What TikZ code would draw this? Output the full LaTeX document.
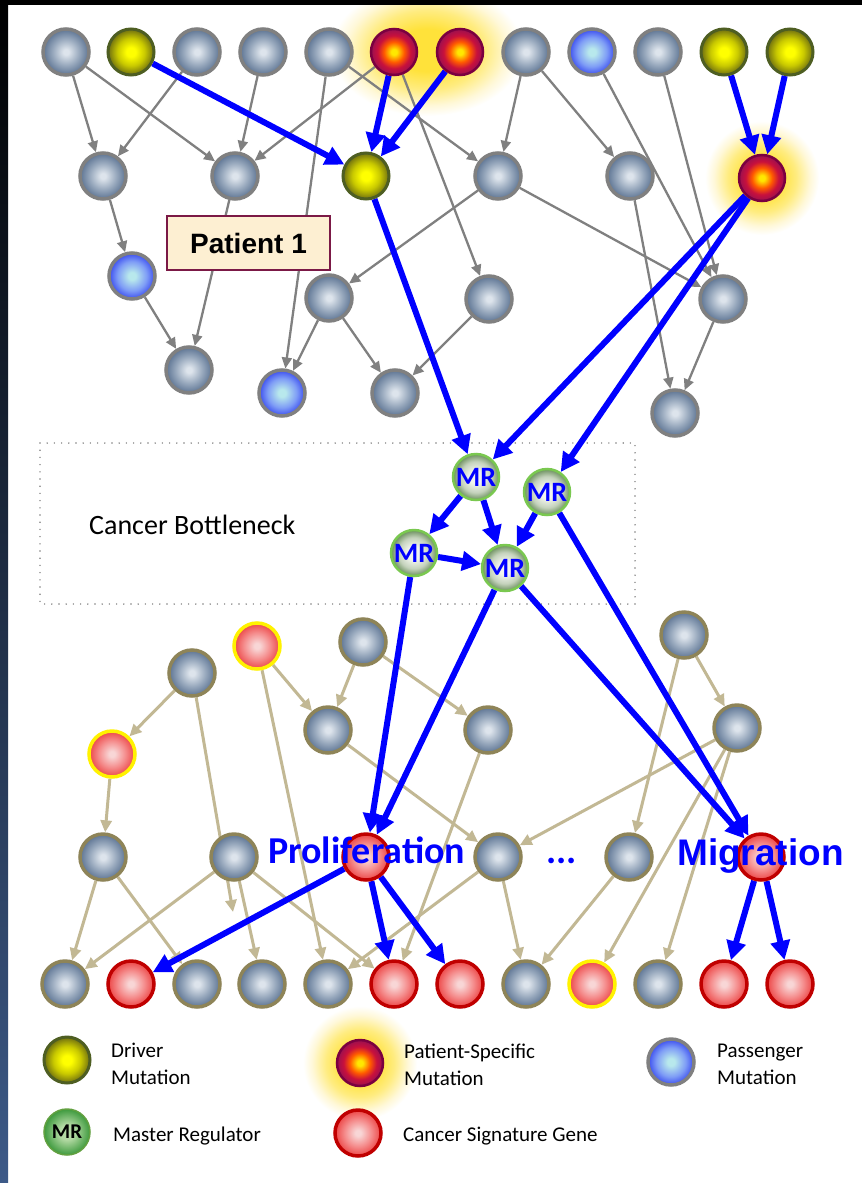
\documentclass[tikz,border=0pt]{standalone}
\usepackage{fontspec}
\setmainfont{Carlito}
\newfontfamily\arialf{Liberation Sans}
\usetikzlibrary{arrows.meta}
\definecolor{gIn}{HTML}{DDE4EC}
\definecolor{gMid}{HTML}{95A6BB}
\definecolor{gOut}{HTML}{5D7493}
\definecolor{bIn}{HTML}{B8E8EC}
\definecolor{bMid}{HTML}{7E9CF6}
\definecolor{bOut}{HTML}{3A4CF0}
\definecolor{yIn}{HTML}{FFFF00}
\definecolor{yMid}{HTML}{C8C800}
\definecolor{yOut}{HTML}{6E6E10}
\definecolor{rIn}{HTML}{FFE800}
\definecolor{rMid}{HTML}{FF5A00}
\definecolor{rMid2}{HTML}{C8103C}
\definecolor{rOut}{HTML}{9A1050}
\definecolor{sIn}{HTML}{F8D6D6}
\definecolor{sMid}{HTML}{F59090}
\definecolor{sOut}{HTML}{EC4646}
\definecolor{mIn}{HTML}{F2F5EE}
\definecolor{mMid}{HTML}{C4D2BC}
\definecolor{mOut}{HTML}{6A8E5C}
\definecolor{lgIn}{HTML}{B4DAA4}
\definecolor{lgOut}{HTML}{3E9A3E}
\definecolor{glIn}{HTML}{FFE23A}
\definecolor{glMid}{HTML}{FFEC80}
\definecolor{glOut}{HTML}{FFF8D8}
\definecolor{ugray}{HTML}{808080}
\definecolor{tanb}{HTML}{8E8458}
\definecolor{tane}{HTML}{C2B894}
\definecolor{drvb}{HTML}{4E5E22}
\definecolor{patb}{HTML}{7A0040}
\definecolor{sigb}{HTML}{C00000}
\definecolor{mrb}{HTML}{7AC850}
\definecolor{boxf}{HTML}{FDEFD2}
\definecolor{boxd}{HTML}{7B1946}
\definecolor{sideblue}{HTML}{3D5A88}
\definecolor{blueline}{HTML}{0000FF}
\pgfdeclareradialshading{graysh}{\pgfpoint{0bp}{0bp}}{color(0bp)=(gIn);color(3bp)=(gIn);color(15bp)=(gMid);color(25bp)=(gOut);color(50bp)=(gOut)}
\pgfdeclareradialshading{bluesh}{\pgfpoint{0bp}{0bp}}{color(0bp)=(bIn);color(4bp)=(bIn);color(16bp)=(bMid);color(25bp)=(bOut);color(50bp)=(bOut)}
\pgfdeclareradialshading{drvsh}{\pgfpoint{0bp}{0bp}}{color(0bp)=(yIn);color(5bp)=(yIn);color(15bp)=(yMid);color(25bp)=(yOut);color(50bp)=(yOut)}
\pgfdeclareradialshading{patsh}{\pgfpoint{0bp}{0bp}}{color(0bp)=(rIn);color(3bp)=(rIn);color(11bp)=(rMid);color(18bp)=(rMid2);color(25bp)=(rOut);color(50bp)=(rOut)}
\pgfdeclareradialshading{sigsh}{\pgfpoint{0bp}{0bp}}{color(0bp)=(sIn);color(3bp)=(sIn);color(14bp)=(sMid);color(25bp)=(sOut);color(50bp)=(sOut)}
\pgfdeclareradialshading{mrsh}{\pgfpoint{0bp}{0bp}}{color(0bp)=(mIn);color(7bp)=(mIn);color(17bp)=(mMid);color(25bp)=(mOut);color(50bp)=(mOut)}
\pgfdeclareradialshading{lmrsh}{\pgfpoint{0bp}{0bp}}{color(0bp)=(lgIn);color(8bp)=(lgIn);color(25bp)=(lgOut);color(50bp)=(lgOut)}
\pgfdeclareradialshading{glowsh}{\pgfpoint{0bp}{0bp}}{color(0bp)=(glIn);color(8bp)=(glIn);color(15bp)=(glMid);color(21bp)=(glOut);color(25bp)=(white);color(50bp)=(white)}
\pgfdeclarelayer{glowl}
\pgfdeclarelayer{edgel}
\pgfsetlayers{glowl,edgel,main}
\begin{document}
\begin{tikzpicture}[x=1pt,y=-1pt,
  nd/.style={circle,inner sep=0pt,minimum size=46pt,line width=3.5pt,shade},
  ugn/.style={nd,draw=ugray,shading=graysh},
  lgn/.style={nd,draw=tanb,shading=graysh},
  pas/.style={nd,draw=ugray,shading=bluesh},
  drv/.style={nd,draw=drvb,shading=drvsh,line width=3pt},
  pat/.style={nd,draw=patb,shading=patsh,line width=2.5pt},
  sig/.style={nd,draw=sigb,shading=sigsh},
  sigy/.style={nd,draw=yellow,shading=sigsh},
  mrn/.style={nd,draw=mrb,shading=mrsh,line width=2.5pt,text=blueline,font=\bfseries\fontsize{28pt}{28pt}\selectfont},
  lmr/.style={nd,draw=mrb!80!black,shading=lmrsh,line width=1.5pt,font=\bfseries\fontsize{21pt}{21pt}\selectfont},
  gedge/.style={draw=ugray,line width=2.3pt,-{Triangle[length=11pt,width=10pt]}},
  tedge/.style={draw=tane,line width=3pt,-{Triangle[length=12pt,width=11pt]}},
  bedge/.style={draw=blueline,line width=6pt,-{Triangle[length=19pt,width=19pt]}},
  legt/.style={anchor=base west,inner sep=0pt,font=\fontsize{21pt}{21pt}\selectfont}]
\useasboundingbox (0,0) rectangle (862,1183);
\begin{pgfonlayer}{glowl}
\fill[white] (0,0) rectangle (862,1183);
\shade[shading=glowsh] (427,50) ellipse [x radius=96pt, y radius=66pt];
\shade[shading=glowsh] (762,178) circle (57pt);
\shade[shading=glowsh] (360,1063) circle (57pt);
\fill[black] (0,0) rectangle (862,5);
\shade[top color=black,bottom color=sideblue] (0,0) rectangle (8,1183);
\end{pgfonlayer}
% top row
\node[ugn] (t1) at (66,52) {};
\node[drv] (t2) at (131,52) {};
\node[ugn] (t3) at (197,52) {};
\node[ugn] (t4) at (263,52) {};
\node[ugn] (t5) at (329,52) {};
\node[pat] (t6) at (394,52) {};
\node[pat] (t7) at (460,52) {};
\node[ugn] (t8) at (526,52) {};
\node[pas] (t9) at (592,52) {};
\node[ugn] (t10) at (658,52) {};
\node[drv] (t11) at (724,52) {};
\node[drv] (t12) at (790,52) {};
% row 2
\node[ugn] (a1) at (103,176) {};
\node[ugn] (a2) at (235,176) {};
\node[drv] (a3) at (366,176) {};
\node[ugn] (a4) at (498,176) {};
\node[ugn] (a5) at (630,176) {};
\node[pat] (a6) at (762,178) {};
% row 3
\node[pas] (b1) at (132,276) {};
\node[ugn] (b2) at (329,298) {};
\node[ugn] (b3) at (489,299) {};
\node[ugn] (b4) at (723,299) {};
% row 4
\node[ugn] (c1) at (189,370) {};
\node[pas] (c2) at (282,393) {};
\node[ugn] (c3) at (395,393) {};
\node[ugn] (c4) at (675,413) {};
% master regulators
\node[mrn] (m1) at (476,477) {MR};
\node[mrn] (m2) at (547,492) {MR};
\node[mrn] (m3) at (414,553) {MR};
\node[mrn] (m4) at (505,568) {MR};
% lower network
\node[lgn] (l1) at (192,673) {};
\node[sigy] (l2) at (257,646) {};
\node[lgn] (l3) at (363,642) {};
\node[sigy] (l4) at (112,754) {};
\node[lgn] (l5) at (328,730) {};
\node[lgn] (l6) at (488,730) {};
\node[lgn] (l7) at (684,635) {};
\node[lgn] (l8) at (737,728) {};
\node[lgn] (k1) at (103,857) {};
\node[lgn] (k2) at (234,857) {};
\node[sig] (pro) at (366,857) {};
\node[lgn] (k3) at (498,857) {};
\node[lgn] (k4) at (629,857) {};
\node[sig] (mig) at (761,857) {};
\coordinate (dang) at (233,912);
% bottom row
\node[lgn] (z1) at (65,984) {};
\node[sig] (z2) at (131,984) {};
\node[lgn] (z3) at (197,984) {};
\node[lgn] (z4) at (262,984) {};
\node[lgn] (z5) at (328,984) {};
\node[sig] (z6) at (394,984) {};
\node[sig] (z7) at (460,984) {};
\node[lgn] (z8) at (526,984) {};
\node[sigy] (z9) at (592,984) {};
\node[lgn] (z10) at (658,984) {};
\node[sig] (z11) at (724,984) {};
\node[sig] (z12) at (790,984) {};
% edges
\begin{pgfonlayer}{edgel}
\draw[draw=ugray,line width=1.6pt,line cap=round,dash pattern=on 0pt off 7.2pt] (40,443) rectangle (635,604);
\foreach \a/\b in {t1/a1,t1/a2,t3/a1,t4/a2,t6/a2,t5/c2,t5/a4,t6/b3,t8/a4,t8/a5,t9/b4,t10/b4,a4/b4,a5/c4,b4/c4,a4/b2,a1/b1,a2/c1,b1/c1,b2/c2,b2/c3,b3/c3}
  \draw[gedge] (\a) -- (\b);
\foreach \a/\b in {l1/l4,l1/dang,l2/l5,l2/z5,l3/l5,l3/l6,l5/k3,l4/k1,k1/z1,k1/z3,k2/z1,k2/z4,k2/z6,l6/z6,k3/z5,k3/z8,k4/z8,l7/k4,l7/l8,l8/k3,l8/z9,l8/z10}
  \draw[tedge] (\a) -- (\b);
\foreach \a/\b in {t2/a3,t6/a3,t7/a3,t11/a6,t12/a6,a3/m1,a6/m1,a6/m2,m1/m3,m1/m4,m2/m4,m3/m4,m3/pro,m4/pro,m4/mig,m2/mig,pro/z2,pro/z6,pro/z7,mig/z11,mig/z12}
  \draw[bedge] (\a) -- (\b);
\end{pgfonlayer}
% labels
\node[draw=boxd,fill=boxf,line width=1.5pt,minimum width=163pt,minimum height=54pt,inner sep=0pt,font=\arialf\bfseries\fontsize{28pt}{28pt}\selectfont] (pbox) at (248.5,243) {Patient 1};
\node[anchor=west,inner sep=0pt,font=\fontsize{28pt}{28pt}\selectfont] (cbn) at (89,525) {Cancer Bottleneck};
\node[anchor=base west,inner sep=0pt,text=blueline,font=\bfseries\fontsize{38pt}{38pt}\selectfont] (prot) at (268,863) {Proliferation};
\node[anchor=base west,inner sep=0pt,text=blueline,font=\bfseries\fontsize{38pt}{38pt}\selectfont] (dots) at (546,863) {...};
\node[anchor=base west,inner sep=0pt,text=blueline,font=\arialf\bfseries\fontsize{37pt}{37pt}\selectfont] (migt) at (677,865) {Migration};
% legend
\node[drv] (ld) at (67,1060) {};
\node[pat] (lp) at (360,1063) {};
\node[pas] (lpa) at (671,1062) {};
\node[lmr] (lm) at (67,1132) {MR};
\node[sig] (ls) at (358,1133) {};
\node[legt] (ld1) at (111,1057) {Driver};
\node[legt] (ld2) at (111,1084) {Mutation};
\node[legt] (lp1) at (404,1058) {Patient-Specific};
\node[legt] (lp2) at (404,1085) {Mutation};
\node[legt] (lpa1) at (717,1057) {Passenger};
\node[legt] (lpa2) at (717,1084) {Mutation};
\node[legt] (lm1) at (113,1141) {Master Regulator};
\node[legt] (ls1) at (403,1141) {Cancer Signature Gene};
\end{tikzpicture}
\end{document}
